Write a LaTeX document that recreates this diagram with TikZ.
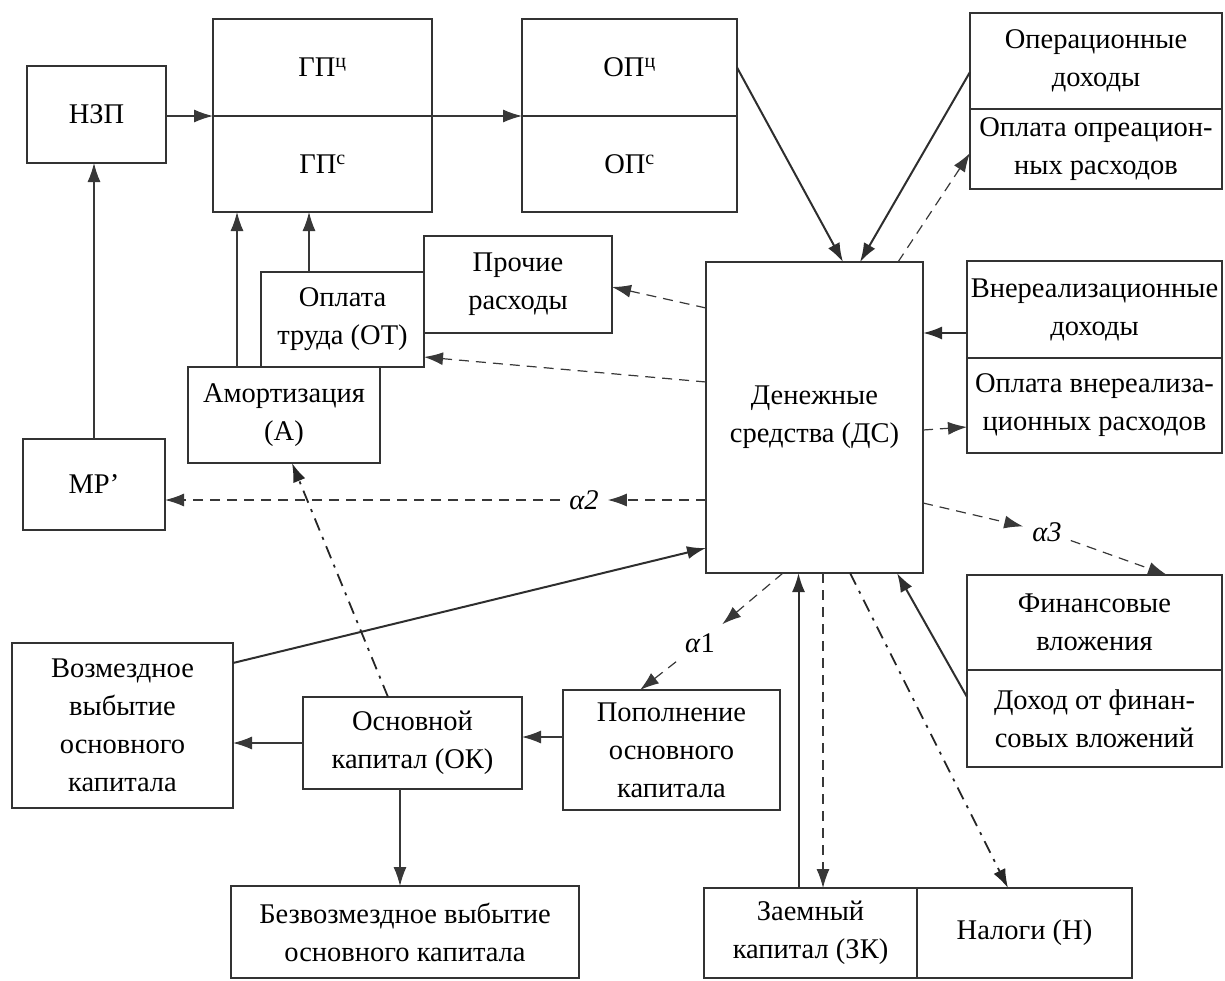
\documentclass[tikz,border=0pt]{standalone}
\usepackage{fontspec}
\setmainfont{Liberation Serif}
\usepackage{tikz}
\usetikzlibrary{arrows.meta, positioning, calc}
\newcommand{\boxfont}{\fontsize{28.5}{38}\selectfont}
\tikzset{
    flowbox/.style={rectangle, draw=black!80, line width=1.2pt, inner sep=0pt, outer sep=0pt,
        text centered, align=center, font=\boxfont},
    alphalabel/.style={inner sep=9pt, font=\boxfont},
    flowarrow/.style={-{Latex[length=19pt,width=13pt]}, line width=1.2pt, draw=black!78},
    cashin/.style={flowarrow, line width=2pt, draw=black!82},
    cashout/.style={flowarrow, dash pattern=on 10pt off 7pt},
    taxflow/.style={flowarrow, line width=1.8pt, draw=black!85, dash pattern=on 13pt off 7pt on 3pt off 7pt},
}
\begin{document}
\begin{tikzpicture}[x=1pt, y=-1pt]
    \useasboundingbox (0,0) rectangle (1225,980);

    % production chain
    \node[flowbox, minimum width=139pt, minimum height=97pt] (nzp) at (96.5,114.5) {НЗП};
    \node[flowbox, minimum width=219pt, minimum height=97pt] (gpt) at (322.5,67.5) {ГП\textsuperscript{ц}};
    \node[flowbox, minimum width=219pt, minimum height=96pt, below=0pt of gpt] (gpc) {ГП\textsuperscript{с}};
    \node[flowbox, minimum width=215pt, minimum height=97pt] (opt) at (629.5,67.5) {ОП\textsuperscript{ц}};
    \node[flowbox, minimum width=215pt, minimum height=96pt, below=0pt of opt] (opc) {ОП\textsuperscript{с}};
    \node[flowbox, minimum width=142pt, minimum height=91pt] (mr) at (94,484.5) {МР’};

    % costs
    \node[flowbox, minimum width=188pt, minimum height=97pt] (proch) at (518,284.5) {Прочие\\расходы};
    \node[flowbox, minimum width=163pt, minimum height=95pt] (ot) at (342.5,319.5) {Оплата\\труда (ОТ)};
    \node[flowbox, minimum width=192pt, minimum height=96pt] (am) at (284,415) {Амортизация\\(А)};

    % cash
    \node[flowbox, minimum width=217pt, minimum height=311pt] (ds) at (814.5,417.5) {Денежные\\средства (ДС)};

    % right column
    \node[flowbox, minimum width=252pt, minimum height=96pt] (opd) at (1096,61) {Операционные\\доходы};
    \node[flowbox, minimum width=252pt, minimum height=80pt, below=0pt of opd] (opr) {Оплата опреацион-\\ных расходов};
    \node[flowbox, minimum width=255pt, minimum height=97pt] (vnd) at (1094.5,309.5) {Внереализационные\\доходы};
    \node[flowbox, minimum width=255pt, minimum height=95pt, below=0pt of vnd] (vnr) {Оплата внереализа-\\ционных расходов};
    \node[flowbox, minimum width=255pt, minimum height=95pt] (fin) at (1094.5,622.5) {Финансовые\\вложения};
    \node[flowbox, minimum width=255pt, minimum height=97pt, below=0pt of fin] (dfin) {Доход от финан-\\совых вложений};

    % fixed capital
    \node[flowbox, minimum width=221pt, minimum height=165pt] (voz) at (122.5,725.5) {Возмездное\\выбытие\\основного\\капитала};
    \node[flowbox, minimum width=219pt, minimum height=92pt] (ok) at (412.5,743) {Основной\\капитал (ОК)};
    \node[flowbox, minimum width=217pt, minimum height=120pt] (pop) at (671.5,750) {Пополнение\\основного\\капитала};
    \node[flowbox, minimum width=348pt, minimum height=92pt] (bez) at (405,932) {Безвозмездное выбытие\\основного капитала};

    % bottom
    \node[flowbox, minimum width=213pt, minimum height=90pt] (zk) at (810.5,933) {Заемный\\капитал (ЗК)};
    \node[flowbox, minimum width=215pt, minimum height=90pt, right=0pt of zk] (nal) {Налоги (Н)};

    % shares
    \node[alphalabel] (a1) at (700,643) {\textit{α}1};
    \node[alphalabel] (a2) at (584,500) {\textit{α2}};
    \node[alphalabel] (a3) at (1047,532) {\textit{α3}};

    % production flows
    \draw[flowarrow] (nzp.east |- gpt.south west) -- (gpt.south west);
    \draw[flowarrow] (gpt.south east) -- (opt.south west);
    \draw[flowarrow] (mr.north) -- (mr.north |- nzp.south);
    \draw[flowarrow] ([xshift=-47pt]am.north) -- ([xshift=-47pt]am.north |- gpc.south);
    \draw[flowarrow] ([xshift=-33.5pt]ot.north) -- ([xshift=-33.5pt]ot.north |- gpc.south);

    % inflows of cash
    \draw[cashin] (opt.east) -- ([xshift=28.5pt]ds.north);
    \draw[cashin] ([yshift=-11pt]opd.west) -- ([xshift=45.5pt]ds.north);
    \draw[cashin] ([yshift=-23.5pt]vnd.west) -- ([yshift=-23.5pt]vnd.west -| ds.east);
    \draw[cashin] ([yshift=21.5pt]dfin.west) -- ([xshift=82.5pt]ds.south);
    \draw[cashin] ([xshift=-12pt]zk.north) -- ([xshift=-12pt]zk.north |- ds.south);
    \draw[cashin] ([yshift=62.5pt]voz.east) -- ([yshift=-130.5pt]ds.west);

    % outflows of cash
    \draw[cashout] ([xshift=83.5pt]ds.north) -- ([yshift=-4pt]opr.west);
    \draw[cashout] ([yshift=-12.5pt]ds.east) -- ([yshift=-21.5pt]vnr.west);
    \draw[cashout] ([yshift=109.5pt]ds.west) -- ([yshift=-2.5pt]proch.east);
    \draw[cashout] ([yshift=35.5pt]ds.west) -- ([yshift=-37.5pt]ot.east);
    \draw[cashout] ([xshift=8.5pt]ds.south) -- ([xshift=8.5pt]ds.south |- zk.north);
    \draw[cashout] (a2 -| ds.west) -- (a2.east);
    \draw[cashout] (a2.west) -- (a2 -| mr.east);
    \draw[cashout] ([yshift=-85.5pt]ds.east) -- (a3);
    \draw[cashout] (a3) -- ([xshift=72.5pt]fin.north);
    \draw[cashout] ([xshift=-31.5pt]ds.south) -- (a1);
    \draw[cashout] (a1) -- ([xshift=-31.5pt]pop.north);
    \draw[taxflow] ([xshift=35.5pt]ds.south) -- ([xshift=-16.5pt]nal.north);

    % fixed capital flows
    \draw[flowarrow] ([yshift=13pt]pop.west) -- ([yshift=13pt]pop.west -| ok.east);
    \draw[flowarrow] (ok.west) -- (ok.west -| voz.east);
    \draw[flowarrow] ([xshift=-12.5pt]ok.south) -- ([xshift=-12.5pt]ok.south |- bez.north);
    \draw[taxflow] ([xshift=-24.5pt]ok.north) -- ([xshift=8pt]am.south);
\end{tikzpicture}
\end{document}
